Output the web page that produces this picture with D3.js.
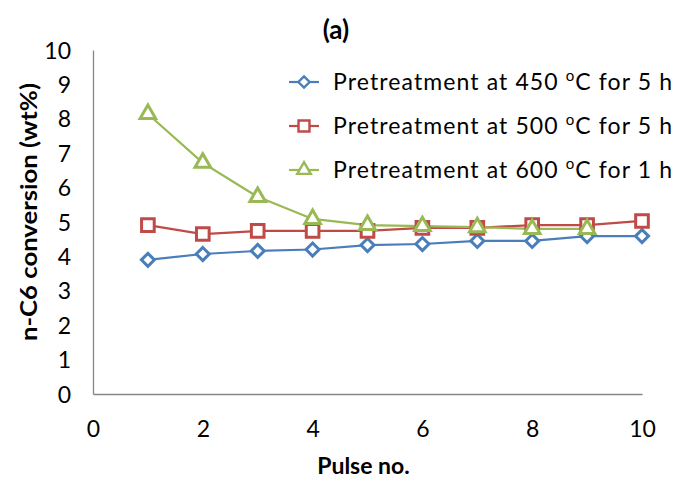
<!DOCTYPE html>
<html>
<head>
<meta charset="utf-8">
<script src="https://cdn.jsdelivr.net/npm/d3@7"></script>
<style>
  html, body { margin: 0; padding: 0; background: #fff; }
  svg { display: block; font-family: Lato, "Open Sans", sans-serif; }
</style>
</head>
<body>
<svg id="chart" width="677" height="480"></svg>
<script>
// Pulse number for each measurement
const pulses = [1, 2, 3, 4, 5, 6, 7, 8, 9, 10];

// n-C6 conversion (wt%) per pretreatment condition
const conv450 = [3.90, 4.07, 4.16, 4.20, 4.33, 4.36, 4.45, 4.45, 4.59, 4.59];
const conv500 = [4.91, 4.65, 4.74, 4.74, 4.74, 4.83, 4.83, 4.91, 4.91, 5.03];
const conv600 = [8.14, 6.72, 5.73, 5.09, 4.91, 4.88, 4.85, 4.80, 4.80];

const seriesNames = [
  "Pretreatment at 450 ",
  "Pretreatment at 500 ",
  "Pretreatment at 600 "
];
const seriesSuffix = ["C for 5 h", "C for 5 h", "C for 1 h"];

const xTicks = [0, 2, 4, 6, 8, 10];
const yTicks = [0, 1, 2, 3, 4, 5, 6, 7, 8, 9, 10];

// Diamond drawn as a square turned 45 degrees (equal width and height)
const squareDiamond = {
  draw(ctx, size) {
    const r = Math.sqrt(size) / 2 * Math.SQRT2;
    ctx.moveTo(0, -r); ctx.lineTo(r, 0); ctx.lineTo(0, r); ctx.lineTo(-r, 0); ctx.closePath();
  }
};

const series = [
  { name: seriesNames[0], suffix: seriesSuffix[0], values: conv450, color: "#4a7ebb", symbol: squareDiamond, size: 85 },
  { name: seriesNames[1], suffix: seriesSuffix[1], values: conv500, color: "#be4b48", symbol: d3.symbolSquare, size: 160 },
  { name: seriesNames[2], suffix: seriesSuffix[2], values: conv600, color: "#98b954", symbol: d3.symbolTriangle, size: 105 }
];

const svg = d3.select("#chart");
const margin = { left: 93, right: 35, top: 50, bottom: 86 };
const W = 677, H = 480;

const x = d3.scaleLinear().domain([0, 10]).range([margin.left, W - margin.right]);
const y = d3.scaleLinear().domain([0, 10]).range([H - margin.bottom, margin.top]);

const axisColor = "#868686";
const tickFont = 23;

// Axes (labels only, no tick marks)
const xAxis = svg.append("g")
  .attr("transform", `translate(0,${y(0)})`)
  .call(d3.axisBottom(x).tickValues(xTicks).tickSize(0).tickPadding(27));
xAxis.select(".domain").attr("stroke", axisColor).attr("stroke-width", 1.3);
xAxis.selectAll("text").attr("font-size", tickFont).attr("fill", "#000")
  .attr("font-family", "Lato, sans-serif");

const yAxis = svg.append("g")
  .attr("transform", `translate(${x(0)},0)`)
  .call(d3.axisLeft(y).tickValues(yTicks).tickSize(0).tickPadding(22));
yAxis.select(".domain").attr("stroke", axisColor).attr("stroke-width", 1.3);
yAxis.selectAll("text").attr("font-size", tickFont).attr("fill", "#000")
  .attr("font-family", "Lato, sans-serif").attr("dy", "0.35em");

// Title and axis titles
svg.append("text")
  .attr("x", 336).attr("y", 39)
  .attr("text-anchor", "middle")
  .attr("font-size", 26).attr("font-weight", "bold")
  .text("(a)");

svg.append("text")
  .attr("x", (x(0) + x(10)) / 2 - 4).attr("y", 474)
  .attr("text-anchor", "middle")
  .attr("font-size", 23).attr("font-weight", "bold")
  .text("Pulse no.");

svg.append("text")
  .attr("transform", `translate(37,212) rotate(-90)`)
  .attr("text-anchor", "middle")
  .attr("font-size", 23).attr("font-weight", "bold")
  .attr("textLength", 258).attr("lengthAdjust", "spacingAndGlyphs")
  .text("n-C6 conversion (wt%)");

// Lines and markers
const line = d3.line()
  .x((d, i) => x(pulses[i]))
  .y(d => y(d));

series.forEach(s => {
  svg.append("path")
    .datum(s.values)
    .attr("fill", "none")
    .attr("stroke", s.color)
    .attr("stroke-width", 2.2)
    .attr("d", line);
});

series.forEach(s => {
  svg.append("g").selectAll("path")
    .data(s.values)
    .join("path")
    .attr("transform", (d, i) => `translate(${x(pulses[i])},${y(d)})`)
    .attr("d", d3.symbol().type(s.symbol).size(s.size))
    .attr("fill", "#fff")
    .attr("stroke", s.color)
    .attr("stroke-width", 3);
});

// Legend
const legend = svg.append("g");
const rowY = [82, 126, 170];
series.forEach((s, i) => {
  const g = legend.append("g").attr("transform", `translate(304,${rowY[i]})`);
  g.append("line").attr("x1", -15).attr("x2", 15)
    .attr("stroke", s.color).attr("stroke-width", 2.2);
  g.append("path")
    .attr("d", d3.symbol().type(s.symbol).size(s.size * 0.75))
    .attr("fill", "#fff").attr("stroke", s.color).attr("stroke-width", 2.4);
  const t = g.append("text")
    .attr("x", 29).attr("y", 8)
    .attr("font-size", 23).attr("fill", "#000")
    .attr("textLength", 339).attr("lengthAdjust", "spacing");
  t.append("tspan").text(s.name);
  t.append("tspan").attr("font-size", 15).attr("dy", -9).text("o");
  t.append("tspan").attr("dy", 9).text(s.suffix);
});
</script>
</body>
</html>
